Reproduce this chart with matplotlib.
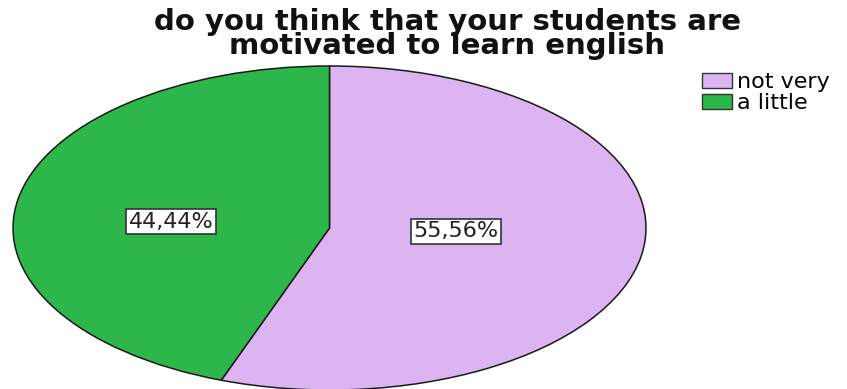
import matplotlib
matplotlib.use("Agg")
import matplotlib.pyplot as plt
from matplotlib.patches import Patch

TITLE = "do you think that your students are\nmotivated to learn english"
CATEGORIES = ["not very", "a little"]
COUNTS = [5, 4]
COLORS = ["#dcb4f2", "#2db64a"]
# label box centres in pie-axes data units (pie radius = 1)
LABEL_XY = [(0.40, -0.02), (-0.50, 0.04)]

W, H = 847, 389
fig = plt.figure(figsize=(W / 100, H / 100), dpi=100)

# pie axes in pixel box: x 13..646, y 66..390 (from top)
l, r, t, b = 13, 646, 66, 390
ax = fig.add_axes([l / W, (H - b) / H, (r - l) / W, (b - t) / H])

wedges, _, autotexts = ax.pie(
    COUNTS, colors=COLORS, startangle=90, counterclock=False,
    autopct=lambda p: f"{p:.2f}%".replace(".", ","),
    wedgeprops=dict(edgecolor="#1a1a1a", linewidth=1.1),
    textprops=dict(fontsize=16, color="#222222", family="DejaVu Sans"),
)
ax.set_aspect("auto")
ax.set_xlim(-1, 1)
ax.set_ylim(-1, 1)

for txt, xy in zip(autotexts, LABEL_XY):
    txt.set_position(xy)
    txt.set_bbox(dict(boxstyle="square,pad=0.12", facecolor="white",
                      edgecolor="#333333", linewidth=1.2))

fig.text(0.528, 1 - 8 / H, TITLE, ha="center", va="top", fontsize=21,
         fontweight="bold", family="DejaVu Sans", color="#111111",
         linespacing=0.82, multialignment="center")

handles = [Patch(facecolor=c, edgecolor="#333333", linewidth=1.0) for c in COLORS]
fig.legend(handles, CATEGORIES, loc="upper left",
           bbox_to_anchor=(691 / W, 1 - 61 / H), frameon=False,
           handlelength=1.35, handleheight=0.7,
           handletextpad=0.2, labelspacing=0.05, borderpad=0.0,
           prop=dict(family="DejaVu Sans", size=16))

fig.savefig("out.png", dpi=100)
